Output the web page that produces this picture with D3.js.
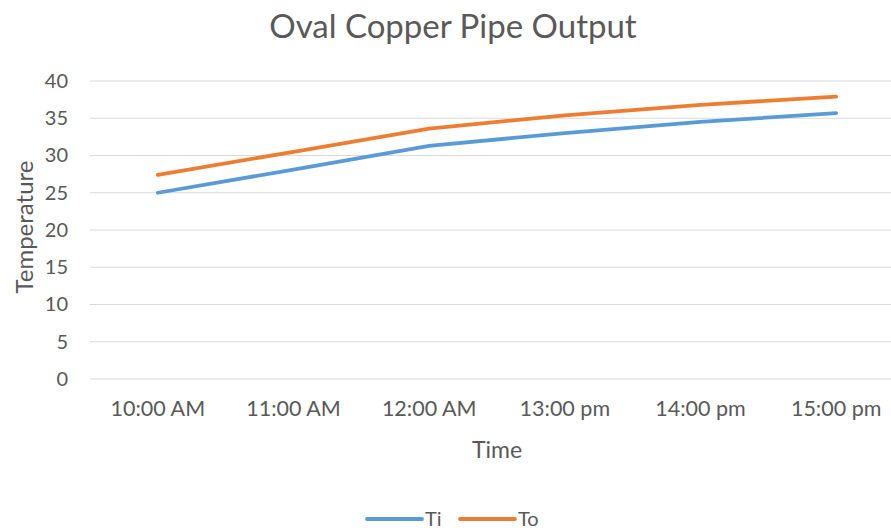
<!DOCTYPE html>
<html>
<head>
<meta charset="utf-8">
<script src="https://cdn.jsdelivr.net/npm/d3@7"></script>
<style>
  body { margin: 0; background: #fff; }
  text { font-family: Lato, "Open Sans", sans-serif; fill: #595959; }
</style>
</head>
<body>
<div class="chart"></div>
<script>
var svgWidth = 891;
var svgHeight = 531;

// data
var times = ["10:00 AM", "11:00 AM", "12:00 AM", "13:00 pm", "14:00 pm", "15:00 pm"];
var tiValues = [25.0, 28.1, 31.3, 33.0, 34.5, 35.7];
var toValues = [27.4, 30.5, 33.6, 35.4, 36.8, 37.9];
var yTicks = [0, 5, 10, 15, 20, 25, 30, 35, 40];
var seriesNames = ["Ti", "To"];
var colors = ["#5B9BD5", "#ED7D31"];

var margin = { top: 81, left: 90 };
var plotRight = 904;   // plot runs a bit past the picture's right edge
var plotBottom = 379;

var svg = d3.select(".chart")
  .append("svg")
  .attr("width", svgWidth)
  .attr("height", svgHeight);

var xScale = d3.scaleBand()
  .domain(times)
  .range([margin.left, plotRight]);

var yScale = d3.scaleLinear()
  .domain([0, 40])
  .range([plotBottom, margin.top]);

// gridlines
svg.append("g")
  .selectAll("line")
  .data(yTicks)
  .enter()
  .append("line")
  .attr("x1", margin.left)
  .attr("x2", plotRight)
  .attr("y1", d => yScale(d))
  .attr("y2", d => yScale(d))
  .attr("stroke", "#d9d9d9")
  .attr("stroke-width", 1);

// y axis labels
var leftAxis = d3.axisLeft(yScale).tickValues(yTicks).tickSize(0).tickPadding(22);
var yAxis = svg.append("g")
  .attr("transform", `translate(${margin.left}, 0)`)
  .call(leftAxis);
yAxis.select(".domain").remove();
yAxis.selectAll("text").style("font-size", "20px").attr("fill", "#595959");

// x axis labels
var bottomAxis = d3.axisBottom(xScale).tickSize(0).tickPadding(22);
var xAxis = svg.append("g")
  .attr("transform", `translate(0, ${plotBottom})`)
  .call(bottomAxis);
xAxis.select(".domain").remove();
xAxis.selectAll("text").style("font-size", "21.5px").attr("fill", "#595959");

// lines
var line = d3.line()
  .x((d, i) => xScale(times[i]) + xScale.bandwidth() / 2)
  .y(d => yScale(d));

[tiValues, toValues].forEach(function (vals, i) {
  svg.append("path")
    .datum(vals)
    .attr("d", line)
    .attr("fill", "none")
    .attr("stroke", colors[i])
    .attr("stroke-width", 3.8)
    .attr("stroke-linecap", "round")
    .attr("stroke-linejoin", "round");
});

// title
svg.append("text")
  .attr("x", 453)
  .attr("y", 38)
  .attr("text-anchor", "middle")
  .style("font-size", "33px")
  .text("Oval Copper Pipe Output");

// axis titles
svg.append("text")
  .attr("x", 497)
  .attr("y", 458)
  .attr("text-anchor", "middle")
  .style("font-size", "23px")
  .text("Time");

svg.append("text")
  .attr("transform", "translate(33, 227) rotate(-90)")
  .attr("text-anchor", "middle")
  .style("font-size", "24px")
  .text("Temperature");

// legend
var legendX = [367, 460];
seriesNames.forEach(function (name, i) {
  var g = svg.append("g").attr("transform", `translate(${legendX[i]}, 519)`);
  g.append("line")
    .attr("x1", 0).attr("x2", 55)
    .attr("y1", 0).attr("y2", 0)
    .attr("stroke", colors[i])
    .attr("stroke-width", 3.8)
    .attr("stroke-linecap", "round");
  g.append("text")
    .attr("x", 58)
    .attr("y", 7)
    .style("font-size", "20px")
    .text(name);
});
</script>
</body>
</html>
